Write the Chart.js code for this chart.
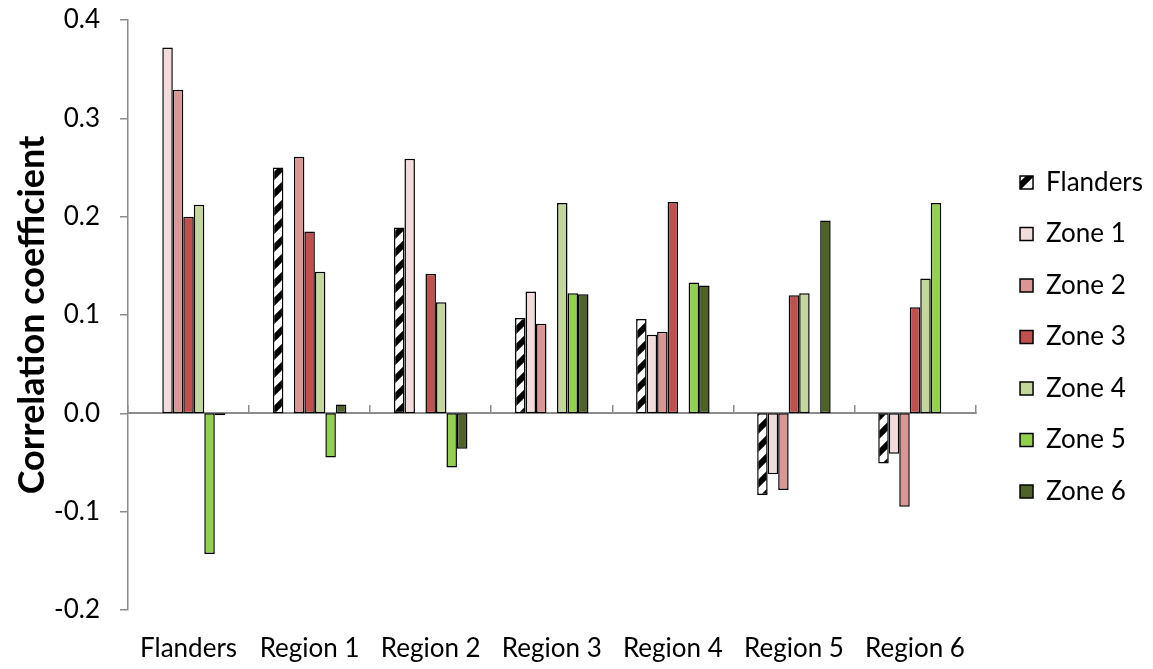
<!DOCTYPE html>
<html>
<head>
<meta charset="utf-8">
<script src="https://cdn.jsdelivr.net/npm/chart.js@4.4.1/dist/chart.umd.min.js"></script>
<style>
  html, body { margin: 0; padding: 0; background: #ffffff; }
  #wrap { width: 1153px; height: 669px; }
</style>
</head>
<body>
<div id="wrap"><canvas id="chart" width="1153" height="669"></canvas></div>
<script>
// Categories along the horizontal axis
const categories = ['Flanders', 'Region 1', 'Region 2', 'Region 3', 'Region 4', 'Region 5', 'Region 6'];

// Correlation coefficient per series (null = no bar for that category)
const flanders = [null, 0.250, 0.189, 0.097, 0.096, -0.083, -0.051];
const zone1    = [0.372, null, 0.259, 0.124, 0.080, -0.062, -0.041];
const zone2    = [0.329, 0.261, null, 0.091, 0.083, -0.078, -0.095];
const zone3    = [0.200, 0.185, 0.142, null, 0.215, 0.120, 0.108];
const zone4    = [0.212, 0.144, 0.113, 0.214, null, 0.122, 0.137];
const zone5    = [-0.143, -0.045, -0.055, 0.122, 0.133, null, 0.214];
const zone6    = [-0.002, 0.009, -0.036, 0.121, 0.130, 0.196, null];

// Series names
const seriesNames = ['Flanders', 'Zone 1', 'Zone 2', 'Zone 3', 'Zone 4', 'Zone 5', 'Zone 6'];

// Value axis range and tick step
const yMin = -0.2;
const yMax = 0.4;
const yStep = 0.1;

// Diagonal hatch fill used for the Flanders series
function makeHatch() {
  const size = 18;
  const c = document.createElement('canvas');
  c.width = size; c.height = size;
  const g = c.getContext('2d');
  g.fillStyle = '#ffffff';
  g.fillRect(0, 0, size, size);
  g.strokeStyle = '#000000';
  g.lineWidth = 6;
  g.lineCap = 'square';
  for (const off of [-size, 0, size]) {
    g.beginPath();
    g.moveTo(off, size);
    g.lineTo(off + size, 0);
    g.stroke();
  }
  return g.createPattern(c, 'repeat');
}

const ctx = document.getElementById('chart').getContext('2d');
const hatch = makeHatch();

const fills = [hatch, '#F2DCDB', '#DA9694', '#C0504D', '#C4D79B', '#92D050', '#4F6228'];
const seriesData = [flanders, zone1, zone2, zone3, zone4, zone5, zone6];

const axisGrey = '#8c8c8c';
const fontFamily = 'Lato, "Open Sans", "Liberation Sans", sans-serif';

const datasets = seriesData.map((d, i) => ({
  label: seriesNames[i],
  data: d,
  backgroundColor: fills[i],
  borderColor: '#000000',
  borderWidth: 1.5,
  borderSkipped: false,
  categoryPercentage: 0.607,
  barPercentage: 1.0,
  xAxisID: 'x',
  yAxisID: 'y'
}));

new Chart(ctx, {
  type: 'bar',
  data: { labels: categories, datasets },
  options: {
    responsive: false,
    animation: false,
    devicePixelRatio: 1,
    layout: { padding: { top: 5, left: 0, right: 0, bottom: 0 } },
    plugins: {
      tooltip: { enabled: false },
      legend: {
        position: 'right',
        align: 'center',
        labels: {
          boxWidth: 13,
          boxHeight: 13,
          padding: 25.5,
          color: '#000000',
          font: { family: fontFamily, size: 26 }
        }
      }
    },
    scales: {
      x: {
        type: 'category',
        position: 'bottom',
        offset: true,
        grid: { display: false },
        border: { display: false },
        ticks: {
          color: '#000000',
          padding: 15,
          maxRotation: 0,
          autoSkip: false,
          font: { family: fontFamily, size: 26 }
        },
        afterFit: (s) => { s.height = 59; }
      },
      // Horizontal axis line through zero with category divider ticks
      xZero: {
        type: 'category',
        position: { y: 0 },
        offset: true,
        grid: {
          offset: true,
          drawOnChartArea: false,
          drawTicks: true,
          tickLength: -9,
          color: axisGrey,
          lineWidth: 1.5
        },
        border: { display: true, color: axisGrey, width: 2 },
        ticks: { display: false }
      },
      y: {
        type: 'linear',
        position: 'left',
        min: yMin,
        max: yMax,
        ticks: {
          stepSize: yStep,
          color: '#000000',
          padding: 20,
          font: { family: fontFamily, size: 26 },
          callback: (v) => (Math.abs(v) < 1e-9 ? '0.0' : Number(v).toFixed(1))
        },
        grid: {
          drawOnChartArea: false,
          drawTicks: true,
          tickLength: 8,
          color: axisGrey,
          lineWidth: 1.5
        },
        border: { display: true, color: axisGrey, width: 1.5 },
        title: {
          display: true,
          text: 'Correlation coefficient',
          color: '#000000',
          padding: { top: 11, bottom: 0 },
          font: { family: fontFamily, size: 36, weight: 'bold' }
        },
        afterFit: (s) => {
          s.width = 128;
          // room above the top tick label
          s.paddingTop = 20;
          s.paddingBottom = 16;
        }
      },
      // Empty gutter between the plot and the legend
      gutter: {
        type: 'linear',
        position: 'right',
        display: true,
        grid: { display: false },
        border: { display: false },
        ticks: { display: false },
        afterFit: (s) => { s.width = 19; }
      }
    }
  }
});
</script>
</body>
</html>
